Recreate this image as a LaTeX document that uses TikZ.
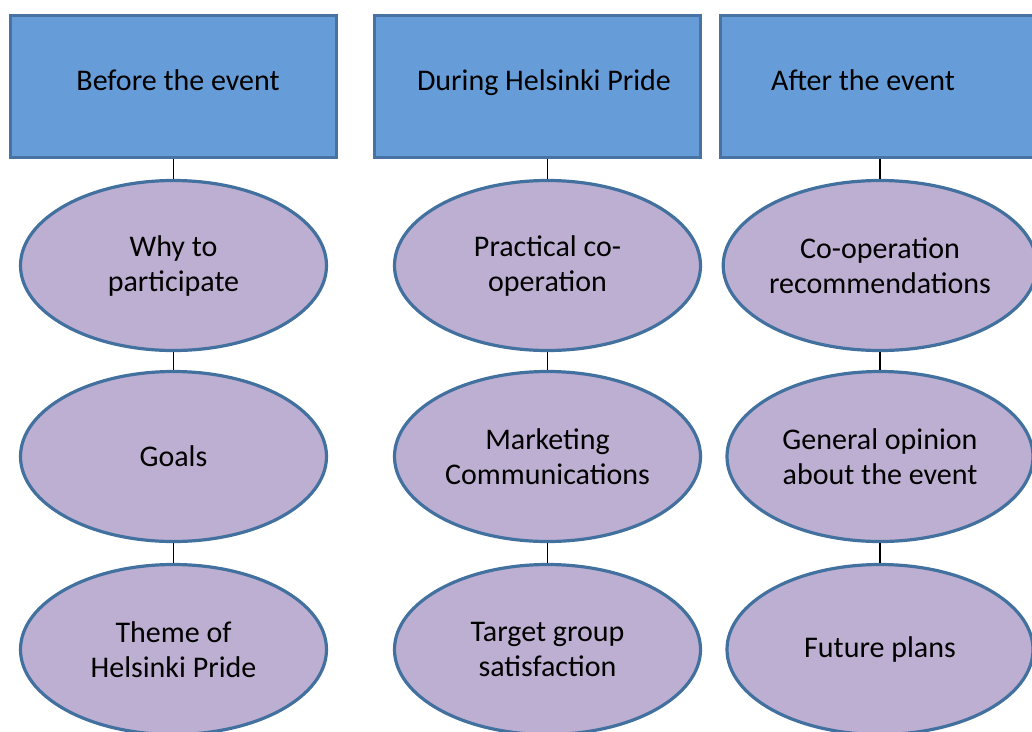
\documentclass[tikz,border=0pt]{standalone}
\usepackage{fontspec}
\setmainfont{Carlito}
\usetikzlibrary{shapes.geometric}

\definecolor{headfill}{RGB}{102,157,216}
\definecolor{headline}{RGB}{72,114,162}
\definecolor{topicfill}{RGB}{189,175,209}
\definecolor{topicline}{RGB}{66,113,160}

\tikzset{
    headbox/.style={draw=headline,fill=headfill,line width=3.2pt,
        minimum width=326pt,minimum height=142pt,inner sep=0pt},
    headtext/.style={anchor=base,font=\fontsize{30}{35}\selectfont},
    topic/.style={ellipse,draw=topicline,fill=topicfill,line width=3.2pt,
        minimum width=306pt,minimum height=170pt,inner sep=0pt,
        align=center,font=\fontsize{30}{35}\selectfont},
    link/.style={line width=1.3pt}
}

\begin{document}
\begin{tikzpicture}[x=1pt,y=-1pt]
    \useasboundingbox (0,0) rectangle (1032,731);
    \clip (0,0) rectangle (1032,731);
    % phase headers
    \node[headbox] (before) at (173.5,86.5) {};
    \node[headtext] (beforetitle) at (178,90) {Before the event};
    \node[headbox] (during) at (537.5,86.5) {};
    \node[headtext] (duringtitle) at (544,90) {During Helsinki Pride};
    \node[headbox] (after) at (883.5,86.5) {};
    \node[headtext] (aftertitle) at (863,90) {After the event};
    % topics under each phase
    \node[topic] (why) at (173.5,265.5) {Why to\\participate};
    \node[topic] (goals) at (173.5,456.5) {Goals};
    \node[topic] (theme) at (173.5,649.5) {Theme of\\Helsinki Pride};
    \node[topic] (practical) at (547.5,265.5) {Practical co-\\operation};
    \node[topic] (marketing) at (547.5,456.5) {Marketing\\Communications};
    \node[topic] (target) at (547.5,649.5) {Target group\\satisfaction};
    \node[topic] (coop) at (880,265.5) {Co-operation\\recommendations};
    \node[topic] (opinion) at (880,456.5) {General opinion\\about the event};
    \node[topic] (future) at (880,649.5) {Future plans};
    % connectors
    \foreach \up/\down in {before/why,why/goals,goals/theme,
                           during/practical,practical/marketing,marketing/target,
                           after/coop,coop/opinion,opinion/future}{
        \draw[link] (\down.north) -- (\down.north |- \up.south);
    }
\end{tikzpicture}
\end{document}
